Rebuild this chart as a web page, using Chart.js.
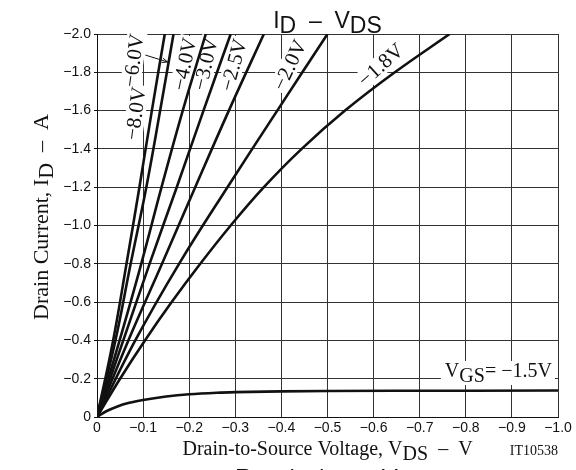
<!DOCTYPE html>
<html><head><meta charset="utf-8">
<script src="https://cdn.jsdelivr.net/npm/chart.js@4/dist/chart.umd.min.js"></script>
<style>html,body{margin:0;padding:0;background:#fff}#wrap{width:576px;height:470px}</style>
</head><body><div id="wrap"><canvas id="c" width="576" height="470"></canvas></div>
<script>
// ---- data ----
const curveNames = ['\u22128.0V','\u22126.0V','\u22124.0V','\u22123.0V','\u22122.5V','\u22122.0V','\u22121.8V','\u22121.5V'];
const idSteep  = [0,-0.4,-0.8,-1.2,-1.6,-2.0];
const vds_m80  = [0,-0.035,-0.064,-0.092,-0.119,-0.147];
const vds_m60  = [0,-0.040,-0.073,-0.107,-0.137,-0.166];
const vds_m40  = [0,-0.049,-0.096,-0.140,-0.186,-0.236];
const vds_m30  = [0,-0.057,-0.114,-0.173,-0.231,-0.290];
const vds_m25  = [0,-0.068,-0.141,-0.213,-0.286,-0.362];
const vds_m20  = [0,-0.083,-0.178,-0.283,-0.391,-0.500];
const id_m18   = [0,-0.2,-0.4,-0.6,-0.8,-1.0,-1.2,-1.4,-1.6,-1.8,-2.0];
const vds_m18  = [0,-0.050,-0.104,-0.162,-0.224,-0.290,-0.362,-0.444,-0.538,-0.646,-0.765];
const vds_m15  = [0,-0.02,-0.043,-0.07,-0.1,-0.15,-0.2,-0.26,-0.3,-0.4,-0.5,-0.7,-1.0];
const id_m15   = [0,-0.030,-0.054,-0.074,-0.089,-0.107,-0.119,-0.127,-0.130,-0.134,-0.136,-0.137,-0.138];
const xTickLabels = ['0','\u22120.1','\u22120.2','\u22120.3','\u22120.4','\u22120.5','\u22120.6','\u22120.7','\u22120.8','\u22120.9','\u22121.0'];
const yTickLabels = ['0','\u22120.2','\u22120.4','\u22120.6','\u22120.8','\u22121.0','\u22121.2','\u22121.4','\u22121.6','\u22121.8','\u22122.0'];

// ---- label placement (data units) ----
const curveLabelSpots = [
  {i:0, x:-0.0836, y:-1.585, a:-82},
  {i:1, x:-0.0793, y:-1.862, a:-82},
  {i:2, x:-0.190,  y:-1.843, a:-78},
  {i:3, x:-0.2356, y:-1.843, a:-77},
  {i:4, x:-0.2964, y:-1.838, a:-75},
  {i:5, x:-0.418,  y:-1.838, a:-65},
  {i:6, x:-0.6156, y:-1.838, a:-42}
];
const vgsSpot = {x:-0.7546, y:-0.209};
const arrowSpot = {x1:-0.105, y1:-1.890, x2:-0.153, y2:-1.854};

const series = [
  {x:vds_m80, y:idSteep},{x:vds_m60, y:idSteep},{x:vds_m40, y:idSteep},{x:vds_m30, y:idSteep},
  {x:vds_m25, y:idSteep},{x:vds_m20, y:idSteep},{x:vds_m18, y:id_m18},{x:vds_m15, y:id_m15}
];
const datasets = series.map((s,k)=>({
  label: curveNames[k],
  data: s.x.map((v,i)=>({x:v, y:s.y[i]})),
  borderColor:'#111', borderWidth:2.6, pointRadius:0, fill:false,
  tension: k===7 ? 0 : 0.4,
  cubicInterpolationMode: k===7 ? 'monotone' : 'default'
}));

const SERIF = '"Liberation Serif","Times New Roman",serif';
const SANS = '"Liberation Sans",Arial,sans-serif';
const LABEL_FONT = '21px '+SERIF;

function richWidth(ctx, parts){ let w=0; for(const p of parts){ ctx.font=p.font; w+=ctx.measureText(p.t).width; } return w; }
function drawRich(ctx, parts, x, y){ let cx=x; for(const p of parts){ ctx.font=p.font; ctx.fillText(p.t, cx, y+(p.dy||0)); cx+=ctx.measureText(p.t).width; } return cx; }

const decor = {
  id:'decor',
  beforeDraw(chart){ const c=chart.ctx; c.save(); c.fillStyle='#fff'; c.fillRect(0,0,chart.width,chart.height); c.restore(); },
  beforeDatasetsDraw(chart){
    const c=chart.ctx, xs=chart.scales.x, ys=chart.scales.y;
    c.save(); c.fillStyle='#fff';
    c.font=LABEL_FONT;
    for(const L of curveLabelSpots){
      const w=c.measureText(curveNames[L.i]).width;
      c.save(); c.translate(xs.getPixelForValue(L.x), ys.getPixelForValue(L.y)); c.rotate(L.a*Math.PI/180);
      c.fillRect(-w/2-2,-10,w+4,20); c.restore();
    }
    const vx=xs.getPixelForValue(vgsSpot.x), vy=ys.getPixelForValue(vgsSpot.y);
    const parts=[{t:'V',font:'20px '+SERIF},{t:'GS',font:'20px '+SERIF,dy:5},{t:'= \u22121.5V',font:'20px '+SERIF}];
    const w=richWidth(c,parts);
    c.fillRect(vx-4, vy-16, w+7, 24);
    c.restore();
  },
  afterDatasetsDraw(chart){
    const c=chart.ctx, xs=chart.scales.x, ys=chart.scales.y;
    c.save(); c.fillStyle='#111'; c.textAlign='center'; c.textBaseline='middle';
    c.font=LABEL_FONT;
    for(const L of curveLabelSpots){
      c.save(); c.translate(xs.getPixelForValue(L.x), ys.getPixelForValue(L.y)); c.rotate(L.a*Math.PI/180);
      c.fillText(curveNames[L.i],0,1); c.restore();
    }
    // arrow
    const ax1=xs.getPixelForValue(arrowSpot.x1), ay1=ys.getPixelForValue(arrowSpot.y1);
    const ax2=xs.getPixelForValue(arrowSpot.x2), ay2=ys.getPixelForValue(arrowSpot.y2);
    c.strokeStyle='#111'; c.lineWidth=1;
    c.beginPath(); c.moveTo(ax1,ay1); c.lineTo(ax2,ay2); c.stroke();
    const ang=Math.atan2(ay2-ay1,ax2-ax1);
    c.beginPath(); c.moveTo(ax2,ay2);
    c.lineTo(ax2-6*Math.cos(ang-0.4), ay2-6*Math.sin(ang-0.4));
    c.moveTo(ax2,ay2);
    c.lineTo(ax2-6*Math.cos(ang+0.4), ay2-6*Math.sin(ang+0.4)); c.stroke();
    // VGS label
    c.textAlign='left'; c.textBaseline='alphabetic';
    const vx=xs.getPixelForValue(vgsSpot.x), vy=ys.getPixelForValue(vgsSpot.y);
    drawRich(c,[{t:'V',font:'20px '+SERIF},{t:'GS',font:'20px '+SERIF,dy:5},{t:'= \u22121.5V',font:'20px '+SERIF}], vx, vy);
    c.restore();
  },
  afterDraw(chart){
    const c=chart.ctx, a=chart.chartArea;
    c.save(); c.fillStyle='#111'; c.textAlign='left'; c.textBaseline='alphabetic';
    const cx=(a.left+a.right)/2;
    // title
    const tf='23px '+SANS;
    const tparts=[{t:'I',font:tf},{t:'D',font:tf,dy:5},{t:'  \u2013  ',font:tf},{t:'V',font:tf},{t:'DS',font:tf,dy:5}];
    drawRich(c,tparts,cx-richWidth(c,tparts)/2,a.top-6);
    // x title
    const xf='20px '+SERIF;
    const xparts=[{t:'Drain-to-Source Voltage, V',font:xf},{t:'DS',font:xf,dy:5},{t:'  \u2013  V',font:xf}];
    drawRich(c,xparts,cx-richWidth(c,xparts)/2,a.bottom+38);
    c.font='14px '+SERIF; c.textAlign='right'; c.fillText('IT10538', a.right, a.bottom+38);
    c.textAlign='left';
    // y title
    const yf='22px '+SERIF;
    const yparts=[{t:'Drain Current, I',font:yf},{t:'D',font:yf,dy:5},{t:'  \u2013  A',font:yf}];
    c.save(); c.translate(48,217); c.rotate(-Math.PI/2);
    drawRich(c,yparts,-richWidth(c,yparts)/2,0); c.restore();
    // next chart's title (cut off at the bottom)
    const bf='24px '+SANS;
    drawRich(c,[{t:'R',font:bf},{t:'DS',font:bf,dy:5},{t:'(on)',font:bf},{t:'   \u2013   ',font:bf},{t:'V',font:bf},{t:'GS',font:bf,dy:5}],235,486);
    c.restore();
  }
};

new Chart(document.getElementById('c'),{
  type:'line',
  data:{datasets},
  plugins:[decor],
  options:{
    responsive:false, animation:false, devicePixelRatio:1,
    layout:{padding:{left:0,right:18,top:34,bottom:0}},
    plugins:{legend:{display:false},tooltip:{enabled:false},title:{display:false}},
    scales:{
      x:{type:'linear',min:-1,max:0,reverse:true,
         afterFit(s){s.height=53;},
         ticks:{stepSize:0.1,autoSkip:false,maxRotation:0,padding:3,color:'#111',
                font:{family:SANS,size:14},callback:(v)=>xTickLabels[Math.round(-v*10)]},
         grid:{color:'#333',lineWidth:1,drawTicks:false},
         border:{color:'#111',width:1}},
      y:{type:'linear',min:-2,max:0,reverse:true,
         afterFit(s){s.width=97;},
         ticks:{stepSize:0.2,autoSkip:false,padding:3,color:'#111',
                font:{family:SANS,size:14},callback:(v)=>yTickLabels[Math.round(-v*5)]},
         grid:{color:'#333',lineWidth:1,drawTicks:true,tickLength:3,tickColor:'#111'},
         border:{color:'#111',width:1}}
    }
  }
});
</script></body></html>
